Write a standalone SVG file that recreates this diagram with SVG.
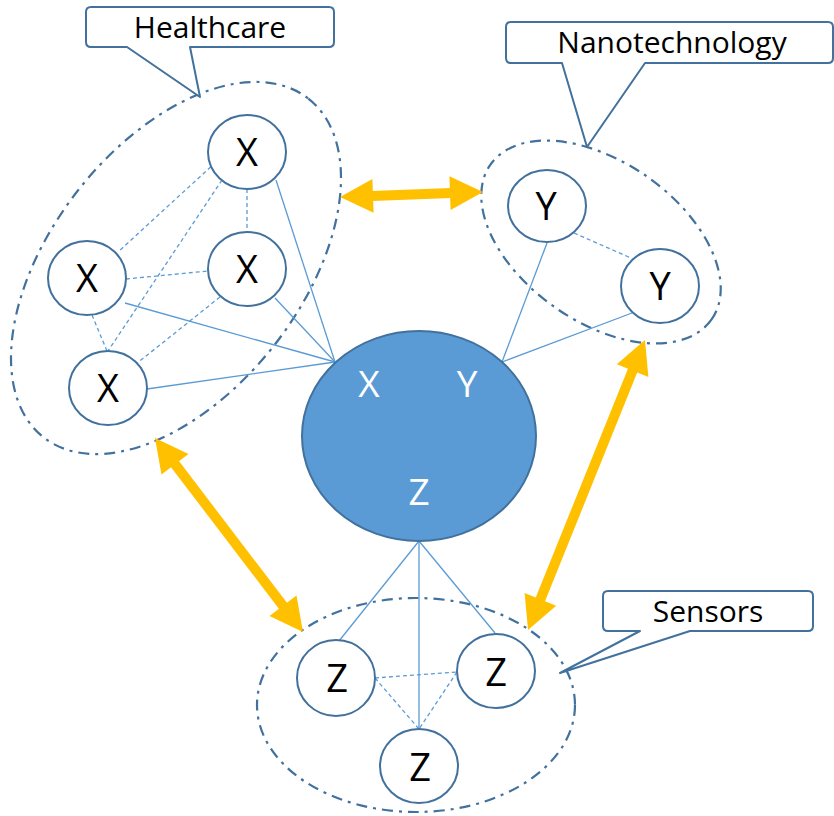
<svg xmlns="http://www.w3.org/2000/svg" width="834" height="816" viewBox="0 0 834 816">
<defs>
<style>
.cluster{fill:none;stroke:#41719C;stroke-width:2.2;stroke-dasharray:11 6 3 6}
.node{fill:#FFFFFF;stroke:#41719C;stroke-width:2}
.lbl{font-family:"Open Sans","Liberation Sans",sans-serif;font-size:38px;fill:#000000;text-anchor:middle}
.clbl{font-family:"Open Sans","Liberation Sans",sans-serif;font-size:37px;fill:#FFFFFF;text-anchor:middle}
.call{fill:#FFFFFF;stroke:#41719C;stroke-width:2;stroke-linejoin:round}
.ctext{font-family:"Open Sans","Liberation Sans",sans-serif;font-size:30px;fill:#000000;text-anchor:middle}
.solid{stroke:#5B9BD5;stroke-width:1.3;fill:none}
.dash{stroke:#5B9BD5;stroke-width:1.3;fill:none;stroke-dasharray:4 3}
.arrow{stroke:#FFC000;stroke-width:10;fill:none}
</style>
<marker id="ah" markerUnits="userSpaceOnUse" markerWidth="40" markerHeight="40" refX="1" refY="0" viewBox="0 -20 40 40" orient="auto-start-reverse" overflow="visible">
<path d="M0,-17 L33,0 L0,17 Z" fill="#FFC000"/>
</marker>
</defs>

<g id="clusters">
<ellipse class="cluster" cx="176" cy="268" rx="215" ry="125" transform="rotate(-52 176 268)"/>
<ellipse class="cluster" cx="601" cy="242" rx="135" ry="80" transform="rotate(35 601 242)"/>
<ellipse class="cluster" cx="416" cy="705" rx="159" ry="107"/>
</g>

<g id="connectors">
<line class="solid" x1="276" y1="180" x2="335" y2="362"/>
<line class="solid" x1="275" y1="298" x2="335" y2="362"/>
<line class="solid" x1="125" y1="303" x2="335" y2="362"/>
<line class="solid" x1="147" y1="389" x2="335" y2="362"/>
<line class="dash" x1="216" y1="162" x2="118" y2="252"/>
<line class="dash" x1="222" y1="180" x2="108" y2="351"/>
<line class="dash" x1="247" y1="189" x2="247" y2="232"/>
<line class="dash" x1="126" y1="279" x2="208" y2="271"/>
<line class="dash" x1="92" y1="315" x2="107" y2="351"/>
<line class="dash" x1="220" y1="297" x2="136" y2="364"/>
<line class="solid" x1="547" y1="243" x2="502" y2="362"/>
<line class="solid" x1="632" y1="313" x2="502" y2="362"/>
<line class="dash" x1="574" y1="233" x2="631" y2="258"/>
<line class="solid" x1="419" y1="541" x2="339" y2="641"/>
<line class="solid" x1="419" y1="541" x2="495" y2="633"/>
<line class="solid" x1="419" y1="541" x2="419" y2="729"/>
<line class="dash" x1="375" y1="678" x2="457" y2="672"/>
<line class="dash" x1="375" y1="678" x2="419" y2="729"/>
<line class="dash" x1="457" y1="672" x2="419" y2="729"/>
</g>

<g id="arrows">
<line class="arrow" x1="372" y1="195.9" x2="451" y2="193.1" marker-start="url(#ah)" marker-end="url(#ah)"/>
<line class="arrow" x1="174.4" y1="463.4" x2="283.6" y2="606.6" marker-start="url(#ah)" marker-end="url(#ah)"/>
<line class="arrow" x1="633" y1="369.7" x2="540" y2="600.3" marker-start="url(#ah)" marker-end="url(#ah)"/>
</g>

<g id="hub">
<ellipse cx="419" cy="436" rx="117" ry="105" fill="#5B9BD5" stroke="#41719C" stroke-width="2"/>
<text class="clbl" x="369" y="397">X</text>
<text class="clbl" x="467" y="397">Y</text>
<text class="clbl" x="419" y="505">Z</text>
</g>

<g id="x1"><ellipse class="node" cx="247" cy="152" rx="39" ry="37"/><text class="lbl" x="247" y="166">X</text></g>
<g id="x2"><ellipse class="node" cx="247" cy="269" rx="39" ry="37"/><text class="lbl" x="247" y="283">X</text></g>
<g id="x3"><ellipse class="node" cx="87" cy="278" rx="39" ry="37"/><text class="lbl" x="87" y="292">X</text></g>
<g id="x4"><ellipse class="node" cx="108" cy="388" rx="39" ry="37"/><text class="lbl" x="108" y="402">X</text></g>
<g id="y1"><ellipse class="node" cx="547" cy="206" rx="39" ry="36"/><text class="lbl" x="546" y="220">Y</text></g>
<g id="y2"><ellipse class="node" cx="660" cy="286" rx="39" ry="37"/><text class="lbl" x="660" y="300">Y</text></g>
<g id="z1"><ellipse class="node" cx="336" cy="678" rx="39" ry="38"/><text class="lbl" x="337" y="692">Z</text></g>
<g id="z2"><ellipse class="node" cx="496" cy="671" rx="39" ry="37"/><text class="lbl" x="496" y="686">Z</text></g>
<g id="z3"><ellipse class="node" cx="419" cy="766" rx="39" ry="37"/><text class="lbl" x="420" y="781">Z</text></g>

<g id="callout-healthcare">
<path class="call" d="M91,7 H329 Q334,7 334,12 V42 Q334,47 329,47 H190 L200,97 L127,47 H91 Q86,47 86,42 V12 Q86,7 91,7 Z"/>
<text class="ctext" x="210" y="38">Healthcare</text>
</g>
<g id="callout-nanotechnology">
<path class="call" d="M511,22 H828 Q833,22 833,27 V58 Q833,63 828,63 H645 L587,147 L562,63 H511 Q506,63 506,58 V27 Q506,22 511,22 Z"/>
<text class="ctext" x="672" y="53">Nanotechnology</text>
</g>
<g id="callout-sensors">
<path class="call" d="M608,591 H808 Q813,591 813,596 V626 Q813,631 808,631 H690 L560,673 L640,631 H608 Q603,631 603,626 V596 Q603,591 608,591 Z"/>
<text class="ctext" x="708" y="622">Sensors</text>
</g>
</svg>
